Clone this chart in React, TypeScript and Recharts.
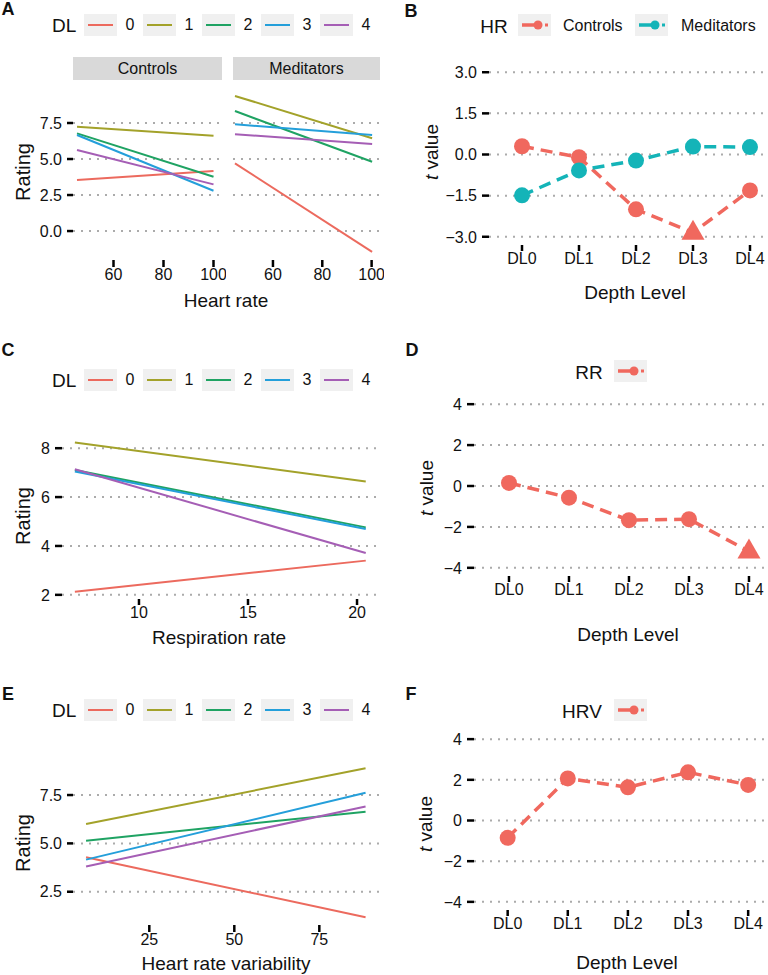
import { LineChart, Line, XAxis, YAxis, ReferenceLine } from "recharts";

const FONT = '"Liberation Sans", Arial, Helvetica, sans-serif';

// depth levels and palette
const dlLevels = ["0", "1", "2", "3", "4"];
const dlColors = ["#EC6A5E", "#A3A22A", "#1FA363", "#249FDA", "#A55EB5"];
const depthLevels = ["DL0", "DL1", "DL2", "DL3", "DL4"];
const ctrlColor = "#F0685E";
const medColor = "#14B4B8";

// A: rating ~ heart rate, regression line end points
const hrCtrlX = [45.4, 100.0];
const hrCtrlStart = [3.54, 7.24, 6.78, 6.67, 5.63];
const hrCtrlEnd = [4.17, 6.62, 3.77, 2.8, 3.24];
const hrMedX = [44.6, 100.2];
const hrMedStart = [4.7, 9.38, 8.33, 7.41, 6.72];
const hrMedEnd = [-1.44, 6.44, 4.81, 6.67, 6.04];
const hrTicks = [60, 80, 100];
const ratingTicksA = [0, 2.5, 5, 7.5];

// B: t values for HR
const hrTCtrl = [0.3, -0.1, -2.0, -2.85, -1.31];
const hrTMed = [-1.49, -0.58, -0.22, 0.29, 0.27];
const hrCtrlSig = [false, false, false, true, false];
const hrMedSig = [false, false, false, false, false];
const tTicksB = [-3, -1.5, 0, 1.5, 3];

// C: rating ~ respiration rate
const rrX = [7.06, 20.4];
const rrStart = [2.13, 8.23, 7.11, 7.05, 7.14];
const rrEnd = [3.4, 6.64, 4.76, 4.69, 3.71];
const rrTicks = [10, 15, 20];
const ratingTicksC = [2, 4, 6, 8];

// D: t values for RR
const rrT = [0.15, -0.57, -1.67, -1.62, -3.2];
const rrSig = [false, false, false, false, true];

// E: rating ~ heart rate variability
const hrvX = [6.4, 88.6];
const hrvStart = [4.28, 6.0, 5.14, 4.16, 3.81];
const hrvEnd = [1.18, 8.88, 6.64, 7.62, 6.91];
const hrvTicks = [25, 50, 75];
const ratingTicksE = [2.5, 5, 7.5];

// F: t values for HRV
const hrvT = [-0.85, 2.07, 1.63, 2.37, 1.75];
const hrvSig = [false, false, false, false, false];
const tTicksDF = [-4, -2, 0, 2, 4];
const dlIdx = [0, 1, 2, 3, 4];

type Box = { x0: number; x1: number; y0: number; y1: number };

const fmtMinus = (v: number, d: number) => v.toFixed(d).replace("-", "\u2212");

function frame(box: Box, yw: number) {
  const left = box.x0 - yw - 4;
  const top = box.y0 - 10;
  return {
    style: { position: "absolute" as const, left, top },
    width: box.x1 - left + 4,
    height: box.y1 - top + 45,
    margin: { top: 10, left: 4, right: 4, bottom: 10 },
  };
}

function lineRows(xs: number[], start: number[], end: number[]) {
  return xs.map((x, j) => {
    const row: Record<string, number> = { x };
    (j === 0 ? start : end).forEach((v, i) => (row[`dl${i}`] = v));
    return row;
  });
}

const TICK_FS = 16;
const tickLineStyle = { stroke: "#000", strokeWidth: 2.5 };

function xTick(fmt: (v: number) => string) {
  return (p: any) => (
    <text
      key={p.index}
      x={p.x}
      y={p.y}
      dy="0.7em"
      textAnchor="middle"
      fontSize={TICK_FS}
      fontFamily={FONT}
      fill="#111"
    >
      {fmt(p.payload.value)}
    </text>
  );
}

function yTick(fmt: (v: number) => string) {
  return (p: any) => (
    <text
      key={p.index}
      x={p.x}
      y={p.y}
      dy="0.36em"
      textAnchor="end"
      fontSize={TICK_FS}
      fontFamily={FONT}
      fill="#111"
    >
      {fmt(p.payload.value)}
    </text>
  );
}

function grid(ticks: number[]) {
  return ticks.map((t) => (
    <ReferenceLine key={`g${t}`} y={t} stroke="#ababab" strokeWidth={2} strokeDasharray="2 6" />
  ));
}

function RegPanel(props: {
  box: Box;
  rows: Record<string, number>[];
  xDomain: number[];
  xTicks: number[];
  yDomain: number[];
  yTicks: number[];
  showY: boolean;
  yDigits: number;
  yTick: number;
  xTick: number;
}) {
  const { box, rows, xDomain, xTicks, yDomain, yTicks, showY, yDigits } = props;
  const f = frame(box, showY ? 50 : 0);
  return (
    <div style={f.style}>
      <LineChart width={f.width} height={f.height} margin={f.margin} data={rows}>
        <XAxis
          type="number"
          dataKey="x"
          domain={xDomain}
          ticks={xTicks}
          allowDataOverflow
          interval={0}
          height={35}
          axisLine={false}
          tickLine={tickLineStyle}
          tickSize={props.xTick}
          tickMargin={2}
          tick={xTick((v) => String(v))}
        />
        <YAxis
          type="number"
          hide={!showY}
          domain={yDomain}
          ticks={yTicks}
          allowDataOverflow
          interval={0}
          width={50}
          axisLine={false}
          tickLine={tickLineStyle}
          tickSize={props.yTick}
          tickMargin={5}
          tick={yTick((v) => fmtMinus(v, yDigits))}
        />
        {grid(yTicks)}
        {dlLevels.map((d, i) => (
          <Line
            key={d}
            type="linear"
            dataKey={`dl${i}`}
            stroke={dlColors[i]}
            strokeWidth={2}
            dot={false}
            activeDot={false}
            isAnimationActive={false}
          />
        ))}
      </LineChart>
    </div>
  );
}

function marker(color: string, sig: boolean[]) {
  return (p: any) => {
    const { cx, cy, index } = p;
    if (cx == null || cy == null) return <g key={index} />;
    if (sig[index])
      return (
        <polygon
          key={index}
          points={`${cx},${cy - 13} ${cx + 11.5},${cy + 7} ${cx - 11.5},${cy + 7}`}
          fill={color}
        />
      );
    return <circle key={index} cx={cx} cy={cy} r={8} fill={color} />;
  };
}

type TSeries = { key: string; values: number[]; color: string; sig: boolean[] };

function TPanel(props: { box: Box; xDomain: number[]; yDomain: number[]; yTicks: number[]; yDigits: number; series: TSeries[] }) {
  const { box, xDomain, yDomain, yTicks, yDigits, series } = props;
  const rows = dlIdx.map((i) => {
    const r: Record<string, number> = { x: i };
    series.forEach((s) => (r[s.key] = s.values[i]));
    return r;
  });
  const f = frame(box, 50);
  return (
    <div style={f.style}>
      <LineChart width={f.width} height={f.height} margin={f.margin} data={rows}>
        <XAxis
          type="number"
          dataKey="x"
          domain={xDomain}
          ticks={dlIdx}
          allowDataOverflow
          interval={0}
          height={35}
          axisLine={false}
          tickLine={tickLineStyle}
          tickSize={6}
          tickMargin={2}
          tick={xTick((v) => depthLevels[v])}
        />
        <YAxis
          type="number"
          domain={yDomain}
          ticks={yTicks}
          allowDataOverflow
          interval={0}
          width={50}
          axisLine={false}
          tickLine={tickLineStyle}
          tickSize={7}
          tickMargin={5}
          tick={yTick((v) => fmtMinus(v, yDigits))}
        />
        {grid(yTicks)}
        {series.map((s) => (
          <Line
            key={`l${s.key}`}
            type="linear"
            dataKey={s.key}
            stroke={s.color}
            strokeWidth={3.5}
            strokeDasharray="12 7"
            dot={false}
            activeDot={false}
            isAnimationActive={false}
          />
        ))}
        {series.map((s) => (
          <Line
            key={`p${s.key}`}
            type="linear"
            dataKey={s.key}
            stroke="none"
            dot={marker(s.color, s.sig)}
            activeDot={false}
            isAnimationActive={false}
          />
        ))}
      </LineChart>
    </div>
  );
}

function Txt(props: { x: number; y: number; size: number; children: any; bold?: boolean; rotate?: boolean; left?: boolean }) {
  const { x, y, size, bold, rotate, left } = props;
  return (
    <div
      style={{
        position: "absolute",
        left: x,
        top: y,
        fontSize: size,
        fontWeight: bold ? 700 : 400,
        fontFamily: FONT,
        color: "#111",
        whiteSpace: "nowrap",
        lineHeight: 1,
        transform: `translate(${left ? "0" : "-50%"}, -50%)${rotate ? " rotate(-90deg)" : ""}`,
      }}
    >
      {props.children}
    </div>
  );
}

function KeyBox(props: { x: number; cy: number; children: any }) {
  return (
    <svg width={33} height={22} style={{ position: "absolute", left: props.x, top: props.cy - 11 }}>
      <rect x={0} y={0} width={33} height={22} fill="#F0F0F0" />
      {props.children}
    </svg>
  );
}

function DLLegend({ cy }: { cy: number }) {
  return (
    <>
      <Txt x={52} y={cy} size={19} left>
        DL
      </Txt>
      {dlLevels.map((d, i) => (
        <div key={d}>
          <KeyBox x={84 + i * 59} cy={cy}>
            <line x1={4} x2={29} y1={11} y2={11} stroke={dlColors[i]} strokeWidth={2} />
          </KeyBox>
          <Txt x={130 + i * 59} y={cy} size={16}>
            {d}
          </Txt>
        </div>
      ))}
    </>
  );
}

function PointKey({ x, cy, color }: { x: number; cy: number; color: string }) {
  return (
    <KeyBox x={x} cy={cy}>
      <line x1={4} x2={19} y1={11} y2={11} stroke={color} strokeWidth={3.5} />
      <circle cx={20} cy={11} r={4.5} fill={color} />
      <rect x={27} y={9.5} width={3} height={3} fill={color} />
    </KeyBox>
  );
}

const TValue = () => (
  <>
    <i>t</i> value
  </>
);

export default function App() {
  const aBoxC: Box = { x0: 73, x1: 222, y0: 88, y1: 260 };
  const aBoxM: Box = { x0: 233, x1: 380, y0: 88, y1: 260 };
  const hrXDomain = [43.8, 103.4];
  const aYDomain = [-2.01, 9.93];
  return (
    <div style={{ position: "relative", width: 768, height: 975, overflow: "hidden", background: "#fff" }}>
      <style>{"body{margin:0}"}</style>

      {/* Panel A */}
      <Txt x={8} y={9} size={18} bold>A</Txt>
      <DLLegend cy={25} />
      <div style={{ position: "absolute", left: 73, top: 57, width: 149, height: 23, background: "#D9D9D9" }} />
      <div style={{ position: "absolute", left: 233, top: 57, width: 147, height: 23, background: "#D9D9D9" }} />
      <Txt x={147.5} y={69} size={16}>Controls</Txt>
      <Txt x={306.5} y={69} size={16}>Meditators</Txt>
      <RegPanel
        box={aBoxC}
        rows={lineRows(hrCtrlX, hrCtrlStart, hrCtrlEnd)}
        xDomain={hrXDomain}
        xTicks={hrTicks}
        yDomain={aYDomain}
        yTicks={ratingTicksA}
        showY
        yDigits={1}
        yTick={6}
        xTick={7}
      />
      <RegPanel
        box={aBoxM}
        rows={lineRows(hrMedX, hrMedStart, hrMedEnd)}
        xDomain={hrXDomain}
        xTicks={hrTicks}
        yDomain={aYDomain}
        yTicks={ratingTicksA}
        showY={false}
        yDigits={1}
        yTick={6}
        xTick={7}
      />
      <Txt x={23} y={172} size={20} rotate>Rating</Txt>
      <Txt x={226} y={300} size={19}>Heart rate</Txt>

      {/* Panel B */}
      <Txt x={411} y={11} size={18} bold>B</Txt>
      <Txt x={494} y={26} size={19}>HR</Txt>
      <PointKey x={518} cy={25} color={ctrlColor} />
      <Txt x={563} y={26} size={16} left>Controls</Txt>
      <PointKey x={635} cy={25} color={medColor} />
      <Txt x={681} y={26} size={16} left>Meditators</Txt>
      <TPanel
        box={{ x0: 489, x1: 768, y0: 64, y1: 245 }}
        xDomain={[-0.579, 4.316]}
        yDomain={[-3.3, 3.3]}
        yTicks={tTicksB}
        yDigits={1}
        series={[
          { key: "ctrl", values: hrTCtrl, color: ctrlColor, sig: hrCtrlSig },
          { key: "med", values: hrTMed, color: medColor, sig: hrMedSig },
        ]}
      />
      <Txt x={431} y={152} size={19} rotate><TValue /></Txt>
      <Txt x={635} y={292} size={19}>Depth Level</Txt>

      {/* Panel C */}
      <Txt x={8} y={350} size={18} bold>C</Txt>
      <DLLegend cy={380} />
      <RegPanel
        box={{ x0: 62, x1: 376, y0: 435, y1: 599 }}
        rows={lineRows(rrX, rrStart, rrEnd)}
        xDomain={[6.47, 20.87]}
        xTicks={rrTicks}
        yDomain={[1.83, 8.54]}
        yTicks={ratingTicksC}
        showY
        yDigits={0}
        yTick={7}
        xTick={6}
      />
      <Txt x={23} y={516} size={20} rotate>Rating</Txt>
      <Txt x={219} y={637} size={19}>Respiration rate</Txt>

      {/* Panel D */}
      <Txt x={412} y={350} size={18} bold>D</Txt>
      <Txt x={589} y={372} size={19}>RR</Txt>
      <PointKey x={614} cy={371} color={ctrlColor} />
      <TPanel
        box={{ x0: 474, x1: 768, y0: 396, y1: 576 }}
        xDomain={[-0.583, 4.317]}
        yDomain={[-4.4, 4.4]}
        yTicks={tTicksDF}
        yDigits={0}
        series={[{ key: "rr", values: rrT, color: ctrlColor, sig: rrSig }]}
      />
      <Txt x={426} y={488} size={19} rotate><TValue /></Txt>
      <Txt x={628} y={634} size={19}>Depth Level</Txt>

      {/* Panel E */}
      <Txt x={8} y={694} size={18} bold>E</Txt>
      <DLLegend cy={710} />
      <RegPanel
        box={{ x0: 73, x1: 379, y0: 761, y1: 925 }}
        rows={lineRows(hrvX, hrvStart, hrvEnd)}
        xDomain={[2.56, 92.55]}
        xTicks={hrvTicks}
        yDomain={[0.78, 9.26]}
        yTicks={ratingTicksE}
        showY
        yDigits={1}
        yTick={6}
        xTick={7}
      />
      <Txt x={23} y={843} size={20} rotate>Rating</Txt>
      <Txt x={226} y={963} size={19}>Heart rate variability</Txt>

      {/* Panel F */}
      <Txt x={411} y={694} size={18} bold>F</Txt>
      <Txt x={582} y={711} size={19}>HRV</Txt>
      <PointKey x={614} cy={710} color={ctrlColor} />
      <TPanel
        box={{ x0: 474, x1: 768, y0: 731, y1: 910 }}
        xDomain={[-0.56, 4.33]}
        yDomain={[-4.4, 4.4]}
        yTicks={tTicksDF}
        yDigits={0}
        series={[{ key: "hrv", values: hrvT, color: ctrlColor, sig: hrvSig }]}
      />
      <Txt x={425} y={824} size={19} rotate><TValue /></Txt>
      <Txt x={627} y={962} size={19}>Depth Level</Txt>
    </div>
  );
}
